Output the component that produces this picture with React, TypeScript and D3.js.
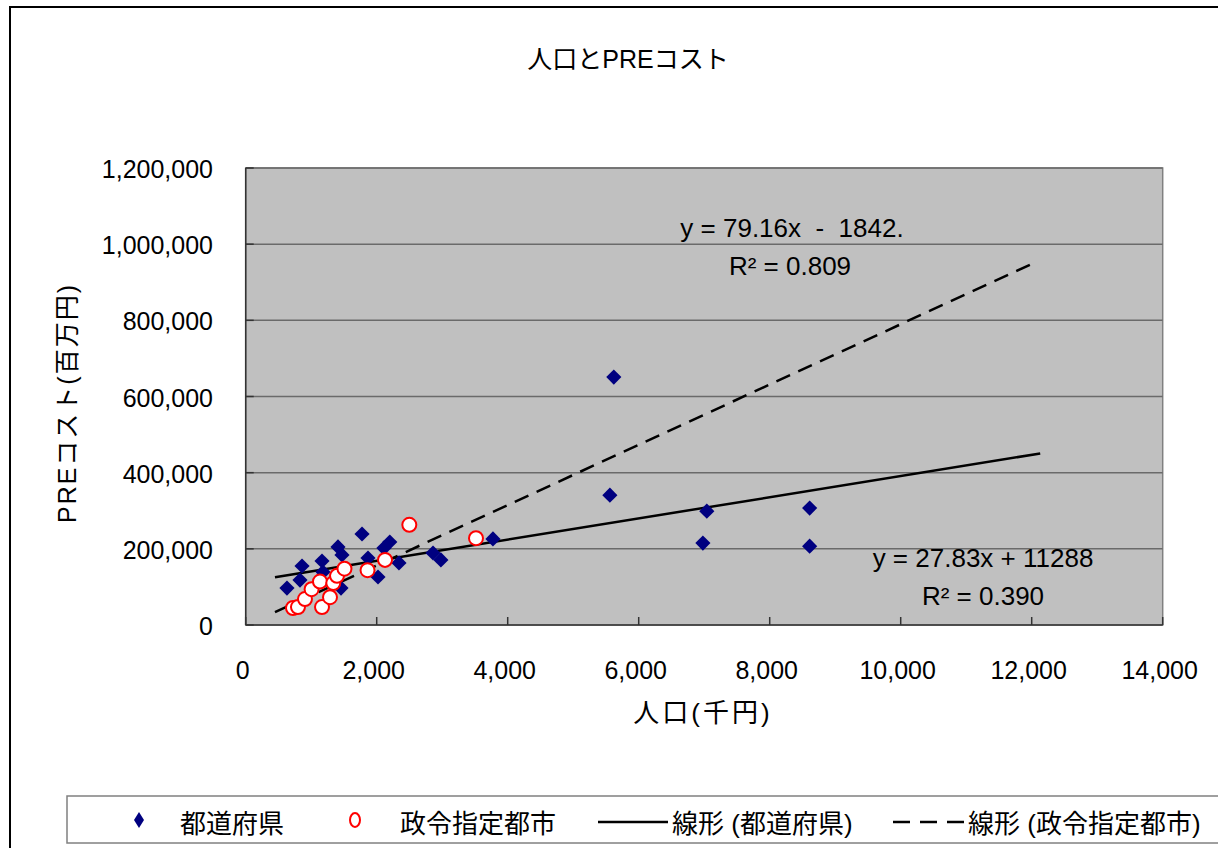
import React from "react";
import * as d3 from "d3";

// ---- data ----
const prefX = [630, 860, 829, 1165, 1180, 1409, 1470, 1776, 1455, 1867, 2020, 2110, 2200, 2340, 2860, 2980, 3775, 5620, 5560, 6980, 7040, 8610, 8610];
const prefY = [97000, 155000, 118000, 168000, 139000, 205000, 184000, 239000, 97000, 176000, 126000, 202000, 218000, 163000, 189000, 171000, 226000, 651000, 341000, 215000, 299000, 307000, 207000];
const cityX = [722, 798, 905, 1006, 1134, 1165, 1287, 1337, 1394, 1508, 1860, 2127, 2498, 3516];
const cityY = [44600, 47000, 68000, 94000, 114000, 47000, 73000, 110000, 129000, 148000, 144000, 171000, 263000, 228000];

const prefTrend = { slope: 27.83, intercept: 112880, from: 447, to: 12130 };
const cityTrend = { slope: 79.16, intercept: -1842, from: 447, to: 12030 };

const xTicks = [0, 2000, 4000, 6000, 8000, 10000, 12000, 14000];
const yTicks = [0, 200000, 400000, 600000, 800000, 1000000, 1200000];

const title = "人口とPREコスト";
const xTitle = "人口(千円)";
const yTitle = "PREコスト(百万円)";
const legendLabels = ["都道府県", "政令指定都市", "線形 (都道府県)", "線形 (政令指定都市)"];
const cityEq = ["y = 79.16x  -  1842.", "R² = 0.809"];
const prefEq = ["y = 27.83x + 11288", "R² = 0.390"];

const FONT = "'Liberation Sans', Arial, 'Noto Sans CJK JP', sans-serif";

export default function App() {
  const x = d3.scaleLinear().domain([0, 14000]).range([245.7, 1162.7]);
  const y = d3.scaleLinear().domain([0, 1200000]).range([625, 168]);
  const fmt = d3.format(",");

  const trendPath = (t: { slope: number; intercept: number; from: number; to: number }) =>
    d3.line<number>().x((d) => x(d)).y((d) => y(t.slope * d + t.intercept))([t.from, t.to]) || "";

  const diamond = d3.symbol().type(d3.symbolSquare).size(115);

  return (
    <svg width={1218} height={848} style={{ position: "absolute", left: 0, top: 0, background: "#fff" }} fontFamily={FONT}>
      {/* outer chart frame */}
      <rect x={10} y={7} width={1240} height={880} fill="#fff" stroke="#000" strokeWidth={2} />
      {/* title */}
      <text x={628} y={68} fontSize={25} textAnchor="middle" fill="#000">{title}</text>

      {/* plot area */}
      <rect x={x(0)} y={y(1200000)} width={x(14000) - x(0)} height={y(0) - y(1200000)} fill="#C0C0C0" stroke="#808080" strokeWidth={1.5} />
      {yTicks.filter((t) => t > 0).map((t) => (
        <line key={"g" + t} x1={x(0)} x2={x(14000)} y1={y(t)} y2={y(t)} stroke="#6a6a6a" strokeWidth={1.5} />
      ))}
      {/* axes */}
      <line x1={x(0)} x2={x(0)} y1={y(0)} y2={y(1200000)} stroke="#333" strokeWidth={1.5} />
      <line x1={x(0)} x2={x(14000)} y1={y(0)} y2={y(0)} stroke="#333" strokeWidth={1.5} />
      {yTicks.map((t) => (
        <g key={"yt" + t}>
          <line x1={x(0)} x2={x(0) + 8} y1={y(t)} y2={y(t)} stroke="#333" strokeWidth={1.5} />
          <text x={213} y={y(t) + 10} fontSize={25} textAnchor="end" fill="#000">{fmt(t)}</text>
        </g>
      ))}
      {xTicks.map((t) => (
        <g key={"xt" + t}>
          <line x1={x(t)} x2={x(t)} y1={y(0)} y2={y(0) - 8} stroke="#333" strokeWidth={1.5} />
          <text x={x(t) - 3} y={679} fontSize={25} textAnchor="middle" fill="#000">{fmt(t)}</text>
        </g>
      ))}

      {/* trend lines */}
      <path d={trendPath(prefTrend)} stroke="#000" strokeWidth={2.5} fill="none" />
      <path d={trendPath(cityTrend)} stroke="#000" strokeWidth={2.5} fill="none" strokeDasharray="15 9" />

      {/* points */}
      {prefX.map((px, i) => (
        <path key={"p" + i} d={diamond() || ""} transform={`translate(${x(px)},${y(prefY[i])}) rotate(45)`} fill="#000080" />
      ))}
      {cityX.map((cx, i) => (
        <circle key={"c" + i} cx={x(cx)} cy={y(cityY[i])} r={7} fill="#fff" stroke="#FF0000" strokeWidth={2} />
      ))}

      {/* equations */}
      <text x={792} y={237} fontSize={26} textAnchor="middle" fill="#000" style={{ whiteSpace: "pre" }}>{cityEq[0]}</text>
      <text x={790} y={275} fontSize={26} textAnchor="middle" fill="#000">{cityEq[1]}</text>
      <text x={983} y={567} fontSize={26} textAnchor="middle" fill="#000">{prefEq[0]}</text>
      <text x={983} y={605} fontSize={26} textAnchor="middle" fill="#000">{prefEq[1]}</text>

      {/* axis titles */}
      <text x={703} y={722} fontSize={26} textAnchor="middle" letterSpacing={3} fill="#000">{xTitle}</text>
      <text transform="translate(76,403) rotate(-90)" fontSize={25} textAnchor="middle" letterSpacing={2} fill="#000">{yTitle}</text>

      {/* legend */}
      <rect x={67} y={796} width={1200} height={47} fill="#fff" stroke="#808080" strokeWidth={1.5} />
      <path d={"M139,812 L144,820 L139,828 L134,820 Z"} fill="#000080" />
      <text x={180} y={833} fontSize={26} fill="#000">{legendLabels[0]}</text>
      <ellipse cx={355} cy={820} rx={5} ry={7} fill="#fff" stroke="#FF0000" strokeWidth={2} />
      <text x={400} y={833} fontSize={26} fill="#000">{legendLabels[1]}</text>
      <line x1={598} x2={668} y1={822} y2={822} stroke="#000" strokeWidth={2.5} />
      <text x={672} y={833} fontSize={26} fill="#000">{legendLabels[2]}</text>
      <line x1={893} x2={965} y1={822} y2={822} stroke="#000" strokeWidth={2.5} strokeDasharray="17 10" />
      <text x={968} y={833} fontSize={26} fill="#000">{legendLabels[3]}</text>
    </svg>
  );
}
